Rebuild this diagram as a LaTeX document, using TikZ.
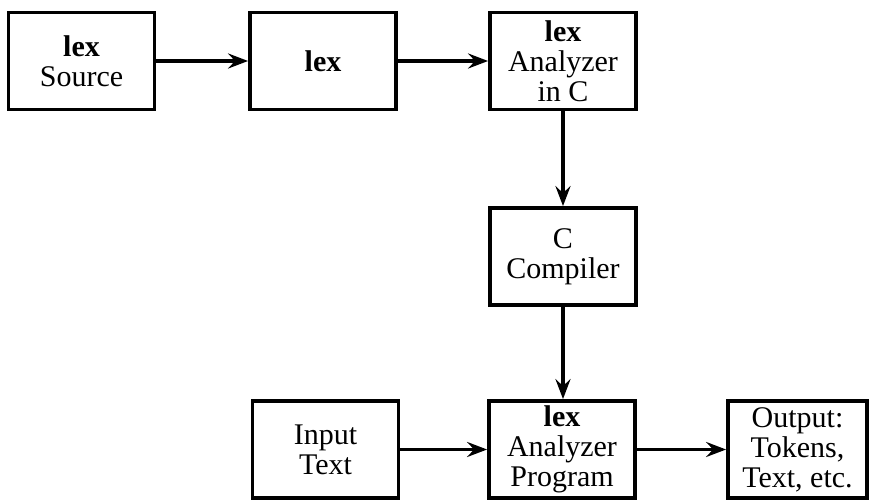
\documentclass[tikz,border=0pt]{standalone}
\usepackage{fontspec}
\setmainfont{Liberation Serif}
\usetikzlibrary{arrows.meta}
\tikzset{
  blk/.style={draw, line width=1.9pt, minimum width=73pt, minimum height=48.5pt,
    align=center, inner sep=1pt, font=\fontsize{15}{15}\selectfont},
  flow/.style={line width=1.9pt, -{Stealth[length=10pt,width=7.5pt,inset=3.5pt]}}
}
\begin{document}
\begin{tikzpicture}[x=0.5pt,y=-0.5pt]
  \useasboundingbox (0,0) rectangle (869,502);
  \node[blk] (src) at (81.5,61) {\textbf{lex}\\Source};
  \node[blk] (lex) at (323,61) {\textbf{lex}};
  \node[blk] (lexc) at (563,61) {\textbf{lex}\\Analyzer\\in C};
  \node[blk] (cc) at (563,256.5) {C\\Compiler};
  \node[blk] (input) at (325.5,449.5) {Input\\Text};
  \node[blk] (prog) at (562,449.5) {\textbf{lex}\\Analyzer\\Program};
  \node[blk, minimum width=69.5pt] (out) at (797.5,449.5) {Output:\\Tokens,\\Text, etc.};
  \draw[flow] (src) -- (lex);
  \draw[flow] (lex) -- (lexc);
  \draw[flow] (lexc) -- (cc);
  \draw[flow] (cc.south) -- (cc.south |- prog.north);
  \draw[flow] (input) -- (prog);
  \draw[flow] (prog) -- (out);
\end{tikzpicture}
\end{document}
